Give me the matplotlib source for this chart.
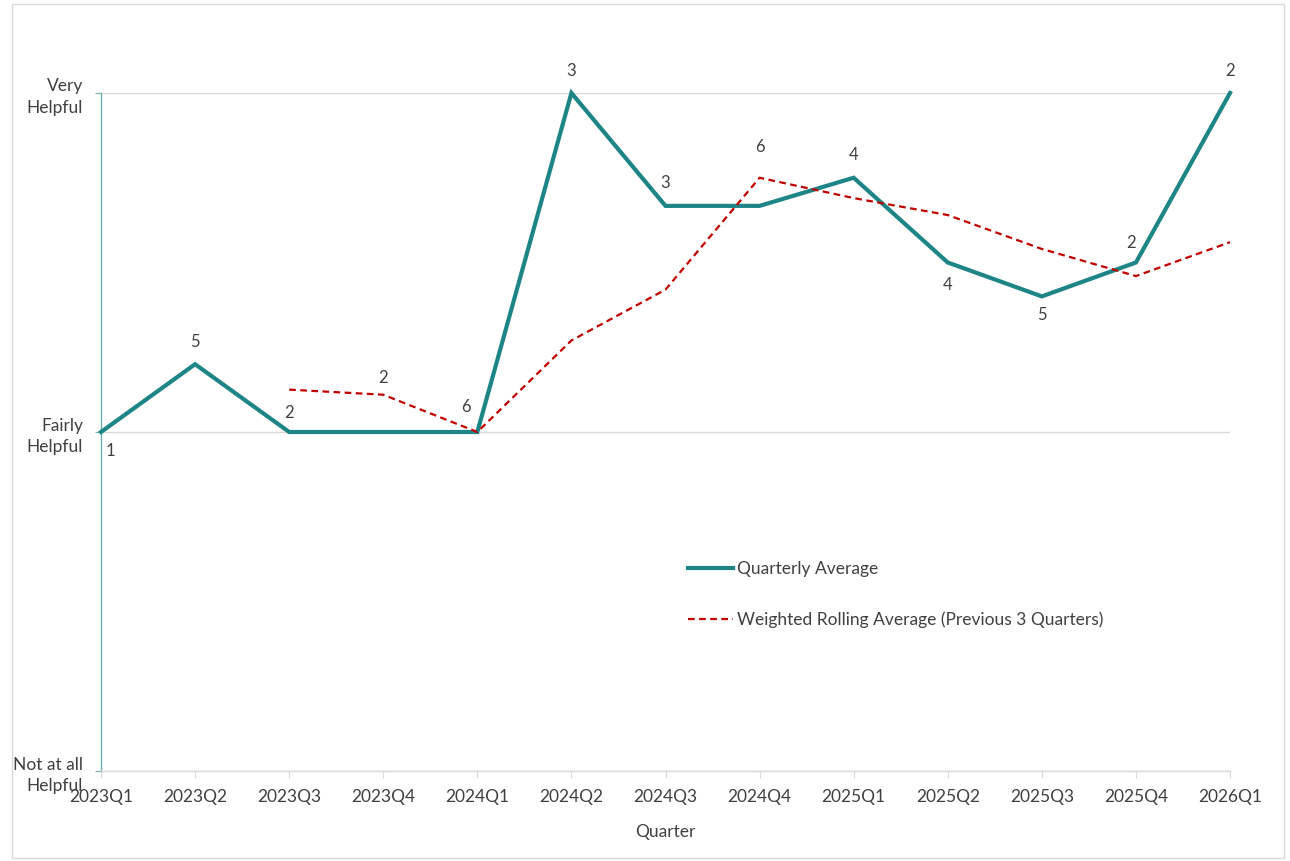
import matplotlib.pyplot as plt
import numpy as np

quarters = ['2023Q1', '2023Q2', '2023Q3', '2023Q4', '2024Q1', '2024Q2', '2024Q3',
            '2024Q4', '2025Q1', '2025Q2', '2025Q3', '2025Q4', '2026Q1']
quarterly_avg = [2.0, 2.2, 2.0, 2.0, 2.0, 3.0, 2.667, 2.667, 2.75, 2.5, 2.4, 2.5, 3.0]
rolling_avg = [np.nan, np.nan, 2.125, 2.11, 2.0, 2.27, 2.42, 2.75, 2.69, 2.64, 2.54, 2.46, 2.56]
counts = [1, 5, 2, 2, 6, 3, 3, 6, 4, 4, 5, 2, 2]
y_labels = ['Not at all\nHelpful', 'Fairly\nHelpful', 'Very\nHelpful']

# label offsets in pixels (dx, dy)
label_offsets = [(9, -19), (0, 22), (0, 19), (0, 54), (-11, 25), (0, 22), (0, 23),
                 (0, 59), (0, 23), (0, -23), (0, -19), (-5, 19), (0, 22)]

teal = '#1E8587'
red = '#C00000'
grey_text = '#404040'

plt.rcParams['font.family'] = ['Lato', 'DejaVu Sans']

fig = plt.figure(figsize=(12.9, 8.61), dpi=100)
ax = fig.add_axes([101 / 1290, 1 - 771 / 861, 1129 / 1290, 678 / 861])

x = np.arange(len(quarters))
ax.plot(x, quarterly_avg, color=teal, lw=3, solid_joinstyle='miter',
        label='Quarterly Average', clip_on=False, zorder=3)
ax.plot(x, rolling_avg, color=red, lw=1.6, ls=(0, (3, 2)),
        label='Weighted Rolling Average (Previous 3 Quarters)', clip_on=False, zorder=4)

for xi, yi, c, (dx, dy) in zip(x, quarterly_avg, counts, label_offsets):
    ax.annotate(str(c), (xi, yi), xytext=(dx, dy), textcoords='offset pixels',
                ha='center', va='center', fontsize=12, color=grey_text)

ax.set_xlim(0, len(quarters) - 1)
ax.set_ylim(1, 3)
ax.set_xticks(x)
ax.set_xticklabels(quarters, fontsize=12.5, color=grey_text)
ax.set_yticks([1, 2, 3])
ax.set_yticklabels(y_labels, fontsize=12.5, color=grey_text, ha='right',
                   linespacing=1.45)
ax.tick_params(axis='x', length=5, color='#D9D9D9', pad=8)
ax.tick_params(axis='y', length=4, color='#6FAFB0', pad=9)

ax.grid(axis='y', color='#D9D9D9', lw=1)
ax.set_axisbelow(True)
for s in ['top', 'right']:
    ax.spines[s].set_visible(False)
ax.spines['left'].set_color('#6FAFB0')
ax.spines['left'].set_linewidth(1)
ax.spines['bottom'].set_color('#D9D9D9')
ax.spines['bottom'].set_linewidth(1)

ax.set_xlabel('Quarter', fontsize=12.5, color=grey_text, labelpad=14)

ax.legend(loc='upper left', bbox_to_anchor=(0.5125, 0.322), frameon=False,
          fontsize=12.5, handlelength=2.6, handletextpad=0.2, labelspacing=1.95,
          borderpad=0, labelcolor=grey_text)

# outer chart border
fig.patches.append(plt.Rectangle((12 / 1290, 3 / 861), 1272 / 1290, 854 / 861,
                                 transform=fig.transFigure, fill=False,
                                 edgecolor='#D9D9D9', lw=1))

fig.savefig('out.png', dpi=100)
